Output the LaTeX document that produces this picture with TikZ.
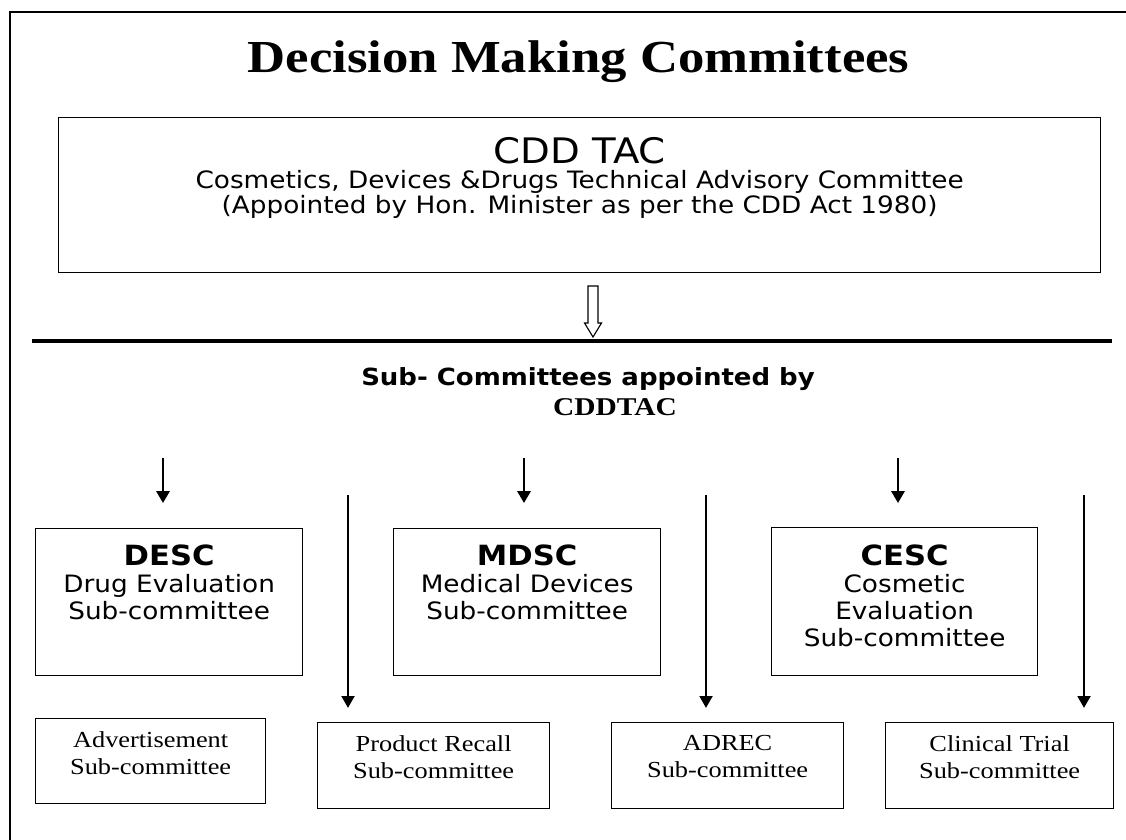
\documentclass[tikz,border=0pt]{standalone}
\usepackage{fontspec}
\setmainfont[FakeStretch=1.15]{Liberation Serif}
\setsansfont[FakeStretch=1.1]{DejaVu Sans}
\usetikzlibrary{arrows.meta, calc, positioning}
\tikzset{
  % cornice esterna
  border line/.style={line width=1.4pt},
  % riquadro di un comitato
  cbox/.style={draw, line width=0.9pt, anchor=north west, inner sep=0pt},
  % testo dei comitati principali
  ctext/.style={anchor=north, align=center, inner sep=0pt,
    font=\sffamily\fontsize{17}{19.1}\selectfont},
  % testo del comitato tecnico
  tactext/.style={anchor=north, align=center, inner sep=0pt,
    font=\sffamily\fontsize{17}{17.7}\selectfont},
  % testo dei sotto-comitati in basso
  stext/.style={anchor=north, align=center, inner sep=0pt,
    font=\rmfamily\fontsize{16.3}{19.1}\selectfont},
  % frecce
  short arrow/.style={-{Triangle[length=8.5pt, width=9.5pt]}, line width=1.5pt},
  long arrow/.style={-{Triangle[length=8.5pt, width=9pt]}, line width=2pt},
  % linea di separazione
  sepline/.style={line width=2.8pt},
}
% riquadro: nome, x1, y1, x2, y2 (in pixel)
\newcommand{\comitato}[5]{%
  \node[cbox, minimum width={0.025cm*(#4-#2)}, minimum height={0.025cm*(#5-#3)}] (#1) at (#2,#3) {};
}

\begin{document}
\begin{tikzpicture}[x=0.025cm, y=-0.025cm]
  \useasboundingbox (0,0) rectangle (1126,840);
  \draw[border line] (10,840) -- (10,12) -- (1126,12);
  \node[anchor=base, inner sep=0pt, font=\rmfamily\bfseries\fontsize{32.6}{36}\selectfont] (title) at (578.5,73) {Decision Making Committees};

  \comitato{tac}{58}{117}{1100}{272}
  \node[tactext] (tac txt) at ($(tac.north)+(0,20)$) {{\fontsize{25}{17.7}\selectfont CDD TAC}\\
    Cosmetics, Devices \&Drugs Technical Advisory Committee\\
    (Appointed by Hon. Minister as per the CDD Act 1980)};

  % freccia vuota
  \draw[line width=0.8pt] (588,286) -- (588,323) -- (584.5,323) -- (593,337) -- (601.5,323) -- (598,323) -- (598,286) -- cycle;
  \coordinate (sep w) at (32,341);
  \coordinate (sep e) at (1112,341);
  \draw[sepline] (sep w) -- (sep e);

  \node[anchor=base, inner sep=0pt, font=\sffamily\bfseries\fontsize{16.8}{19}\selectfont] (sub) at (588,385) {Sub- Committees appointed by};
  \node[anchor=base, inner sep=0pt, font=\rmfamily\bfseries\fontsize{18.2}{19}\selectfont] (subtac) at (615,415) {CDDTAC};

  \comitato{desc}{35}{528}{302}{675}
  \comitato{mdsc}{393}{528}{660}{675}
  \comitato{cesc}{771}{527}{1037}{675}
  \node[ctext] (desc txt) at ($(desc.north)+(0,17)$) {{\bfseries\fontsize{19.8}{19.1}\selectfont DESC}\\Drug Evaluation\\Sub-committee};
  \node[ctext] (mdsc txt) at ($(mdsc.north)+(0,17)$) {{\bfseries\fontsize{19.8}{19.1}\selectfont MDSC}\\Medical Devices\\Sub-committee};
  \node[ctext] (cesc txt) at ($(cesc.north)+(0,18)$) {{\bfseries\fontsize{19.8}{19.1}\selectfont CESC}\\Cosmetic\\Evaluation\\Sub-committee};

  \comitato{adv}{35}{718}{265}{803}
  \comitato{recall}{317}{722}{549}{808}
  \comitato{adrec}{611}{722}{843}{808}
  \comitato{clin}{885}{722}{1113}{808}
  \node[stext] (adv txt) at ($(adv.north)+(0,13)$) {Advertisement\\Sub-committee};
  \node[stext] (recall txt) at ($(recall.north)+(0,13)$) {Product Recall\\Sub-committee};
  \node[stext] (adrec txt) at ($(adrec.north)+(0,13)$) {ADREC\\Sub-committee};
  \node[stext] (clin txt) at ($(clin.north)+(0,13)$) {Clinical Trial\\Sub-committee};

  % frecce corte e lunghe
  \foreach \x/\n in {163/a, 524/b, 898/c} {
    \coordinate (s\n) at (\x,458);
    \coordinate (t\n) at (\x,503);
    \draw[short arrow] (s\n) -- (t\n);
  }
  \foreach \x/\n in {348/a, 706/b, 1084/c} {
    \coordinate (l\n) at (\x,495);
    \coordinate (m\n) at (\x,708);
    \draw[long arrow] (l\n) -- (m\n);
  }
\end{tikzpicture}
\end{document}
